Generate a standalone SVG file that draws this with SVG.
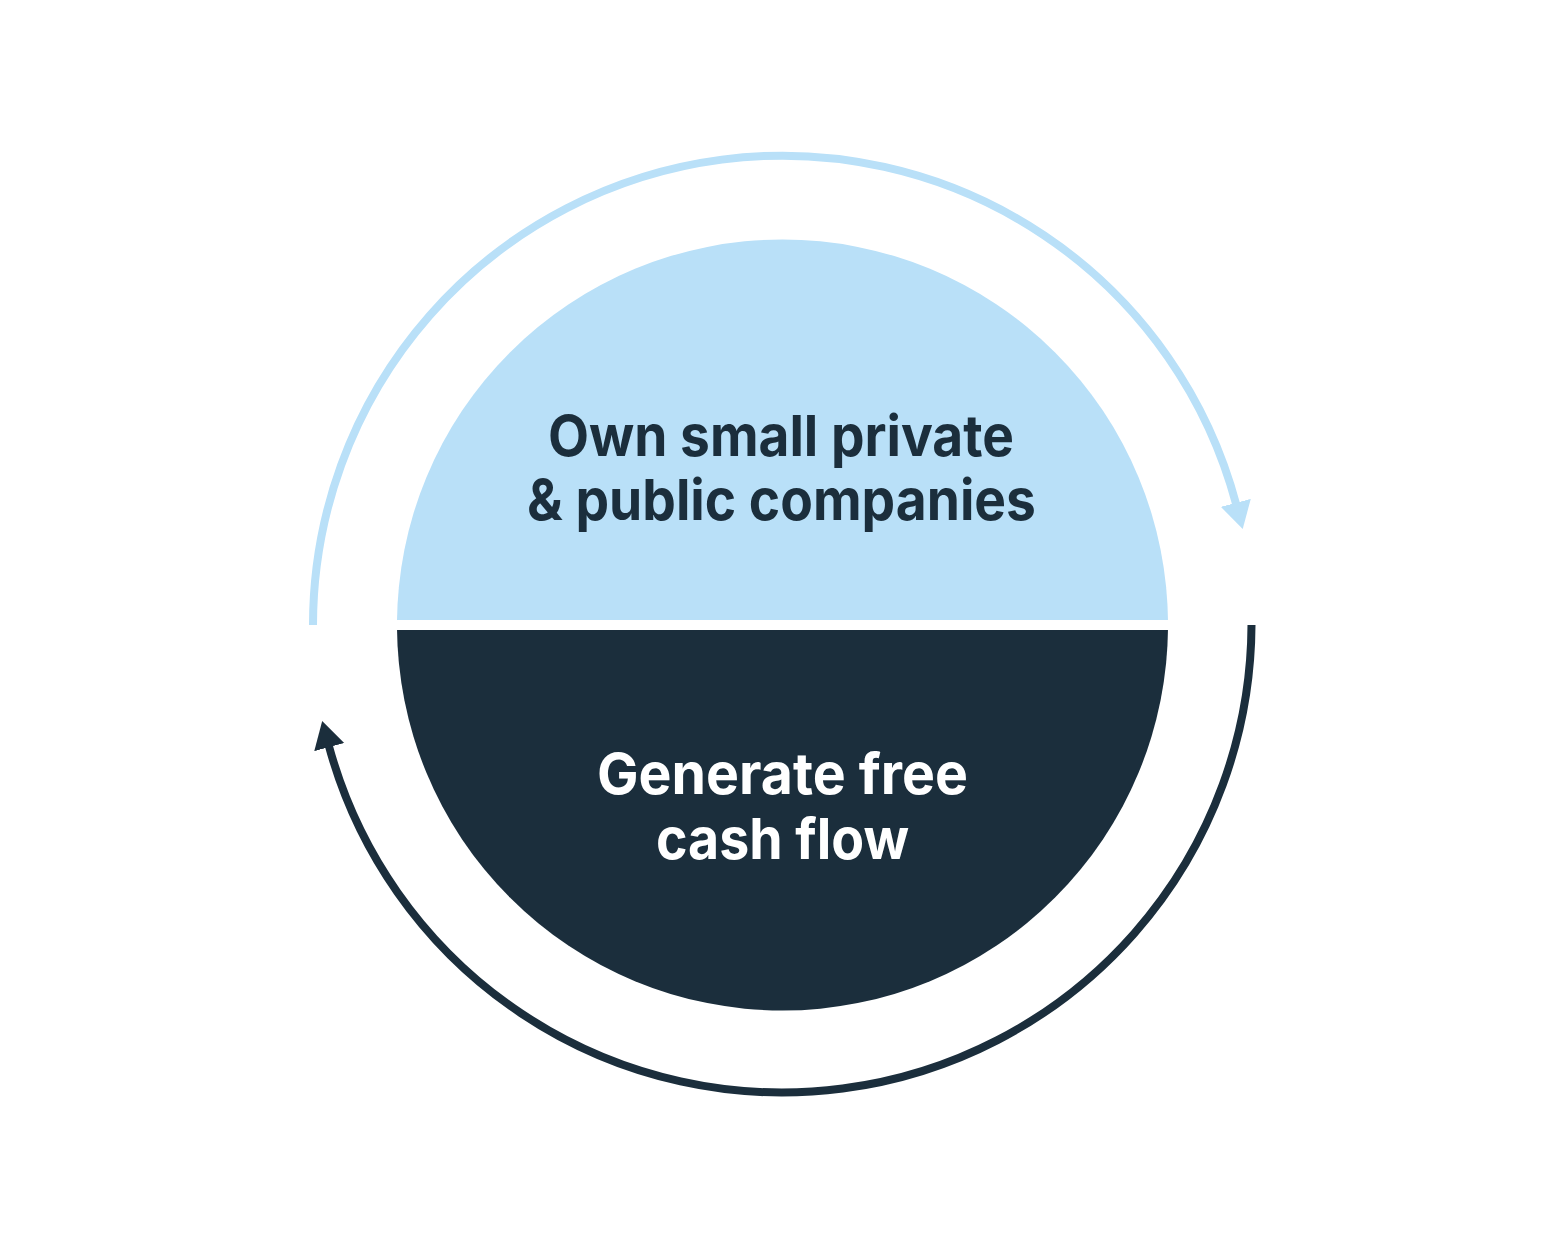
<svg xmlns="http://www.w3.org/2000/svg" width="1564" height="1250" viewBox="0 0 1564 1250">
  <style>
    .lbl { font-family: Inter, "Liberation Sans", sans-serif; font-weight: 700; font-size: 57px; text-anchor: middle; }
    .dark-t { fill: #1b2e3c; }
    .light-t { fill: #ffffff; }
    .arc { fill: none; stroke-width: 8; }
  </style>
  <defs>
    <clipPath id="topHalf"><rect x="0" y="0" width="1564" height="620"/></clipPath>
    <clipPath id="botHalf"><rect x="0" y="630" width="1564" height="620"/></clipPath>
    <marker id="arrLight" markerUnits="userSpaceOnUse" markerWidth="30" markerHeight="34" refX="2" refY="15.5" orient="auto" viewBox="0 0 30 31">
      <path d="M0,0 L27,15.5 L0,31 z" fill="#b9e0f8"/>
    </marker>
    <marker id="arrDark" markerUnits="userSpaceOnUse" markerWidth="30" markerHeight="34" refX="2" refY="15.5" orient="auto" viewBox="0 0 30 31">
      <path d="M0,0 L27,15.5 L0,31 z" fill="#1b2e3c"/>
    </marker>
  </defs>
  <rect width="1564" height="1250" fill="#ffffff"/>
  <g id="connectors">
    <path class="arc" stroke="#b9e0f8" d="M313,625 A469.5,469.5 0 0 1 1236.3,504.8" marker-end="url(#arrLight)"/>
    <path class="arc" stroke="#1b2e3c" d="M1251.5,625 A469.5,469.5 0 0 1 328.7,745.2" marker-end="url(#arrDark)"/>
  </g>
  <g id="node-own">
    <circle cx="782.5" cy="625" r="385.5" fill="#b9e0f8" clip-path="url(#topHalf)"/>
    <text class="lbl dark-t" x="781" y="456" textLength="466" lengthAdjust="spacingAndGlyphs">Own small private</text>
    <text class="lbl dark-t" x="781.5" y="520" textLength="509" lengthAdjust="spacingAndGlyphs">&amp; public companies</text>
  </g>
  <g id="node-fcf">
    <circle cx="782.5" cy="625" r="385.5" fill="#1b2e3c" clip-path="url(#botHalf)"/>
    <text class="lbl light-t" x="782.5" y="794" textLength="371" lengthAdjust="spacingAndGlyphs">Generate free</text>
    <text class="lbl light-t" x="782.5" y="859" textLength="253" lengthAdjust="spacingAndGlyphs">cash flow</text>
  </g>
</svg>
